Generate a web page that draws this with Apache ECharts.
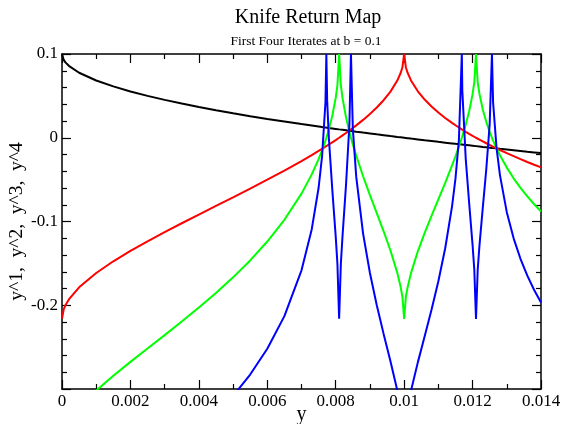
<!DOCTYPE html>
<html>
<head>
<meta charset="utf-8">
<script src="https://cdn.jsdelivr.net/npm/echarts@6/dist/echarts.min.js"></script>
<style>html,body{margin:0;padding:0;background:#fff;}#c{width:562px;height:424px;}</style>
</head>
<body>
<div id="c"></div>
<script>
const xs = [0, 0.00005, 0.0001, 0.0002, 0.0005, 0.001, 0.0015, 0.002, 0.0025, 0.003, 0.0035, 0.004, 0.0045, 0.005, 0.0055, 0.006, 0.0065, 0.007, 0.0073, 0.0075, 0.0076, 0.0077, 0.0077264, 0.00775, 0.0078, 0.0079, 0.008, 0.00805, 0.0081, 0.00815, 0.0082, 0.0083, 0.0084, 0.0084456, 0.0085, 0.0086, 0.0088, 0.009, 0.0092, 0.0094, 0.0096, 0.0098, 0.0099, 0.00995, 0.01, 0.01005, 0.0101, 0.0102, 0.0104, 0.0106, 0.0108, 0.011, 0.0112, 0.0114, 0.0115, 0.0116, 0.0116856, 0.0117, 0.0118, 0.0119, 0.012, 0.01205, 0.0121, 0.01215, 0.0122, 0.0123, 0.0124, 0.0125, 0.0125664, 0.0126, 0.0127, 0.0128, 0.013, 0.0132, 0.0134, 0.0136, 0.0138, 0.014];
const iter1 = [0.1, 0.0929, 0.09, 0.0859, 0.0776, 0.0684, 0.0613, 0.0553, 0.05, 0.0452, 0.0408, 0.0368, 0.0329, 0.0293, 0.0258, 0.0225, 0.0194, 0.0163, 0.01456, 0.0134, 0.01282, 0.01225, 0.0121, 0.01197, 0.01168, 0.01112, 0.01056, 0.01028, 0.01, 0.00972, 0.00945, 0.0089, 0.00835, 0.0081, 0.00781, 0.00726, 0.00619, 0.00513, 0.00408, 0.00305, 0.00202, 0.001, 0.0005, 0.00025, 0, -0.00025, -0.0005, -0.001, -0.00198, -0.00296, -0.00392, -0.00488, -0.00583, -0.00677, -0.00724, -0.0077, -0.0081, -0.00817, -0.00863, -0.00909, -0.00955, -0.00977, -0.01, -0.01023, -0.01045, -0.01091, -0.01136, -0.0118, -0.0121, -0.01225, -0.01269, -0.01314, -0.01402, -0.01489, -0.01576, -0.01662, -0.01747, -0.01832];
const iter2 = [-0.2162, -0.2048, -0.2, -0.193, -0.1786, -0.1615, -0.1475, -0.1351, -0.1236, -0.1127, -0.1021, -0.0917, -0.0814, -0.0711, -0.0607, -0.0501, -0.0392, -0.0278, -0.02066, -0.01575, -0.01323, -0.01068, -0.01, -0.00939, -0.00808, -0.00544, -0.00275, -0.00138, 0, 0.00139, 0.00281, 0.00568, 0.00863, 0.01, 0.01165, 0.01477, 0.02131, 0.02836, 0.0361, 0.04481, 0.05506, 0.0683, 0.07762, 0.08419, 0.1, 0.08419, 0.07766, 0.06846, 0.0555, 0.04563, 0.03737, 0.03014, 0.02365, 0.01771, 0.01492, 0.01223, 0.01, 0.00963, 0.00711, 0.00467, 0.0023, 0.00115, 0, -0.00113, -0.00224, -0.00443, -0.00656, -0.00864, -0.01, -0.01068, -0.01267, -0.01462, -0.0184, -0.02203, -0.02553, -0.02891, -0.03219, -0.03536];
const iter3 = [-0.365, -0.3526, -0.3472, -0.3393, -0.3227, -0.3019, -0.2841, -0.2676, -0.2516, -0.2357, -0.2195, -0.2028, -0.1854, -0.1667, -0.1465, -0.1239, -0.098, -0.0667, -0.04374, -0.0255, -0.01502, -0.00335, 0, 0.0031, 0.01011, 0.02624, 0.04756, 0.06285, 0.1, 0.06272, 0.04699, 0.02463, 0.0071, 0, -0.00794, -0.02153, -0.04598, -0.0684, -0.09, -0.11168, -0.13465, -0.16134, -0.17861, -0.19016, -0.21623, -0.19016, -0.17868, -0.16165, -0.13558, -0.11361, -0.09331, -0.07361, -0.05379, -0.03308, -0.02215, -0.01059, 0, 0.00187, 0.01568, 0.03166, 0.05204, 0.06609, 0.1, 0.06638, 0.05267, 0.03344, 0.01901, 0.00705, 0, -0.00335, -0.01256, -0.02091, -0.03565, -0.04843, -0.05978, -0.07003, -0.07942, -0.08804];
const iter4 = [-0.5042, -0.4938, -0.4893, -0.4825, -0.468, -0.4494, -0.433, -0.4173, -0.4016, -0.3855, -0.3685, -0.3504, -0.3305, -0.3083, -0.2827, -0.252, -0.213, -0.1583, -0.10914, -0.05969, -0.02256, 0.04212, 0.1, 0.04432, -0.00055, -0.06199, -0.11808, -0.1507, -0.21623, -0.15044, -0.11677, -0.05694, 0.01574, 0.1, 0.01089, -0.04673, -0.11443, -0.16153, -0.2, -0.23419, -0.26695, -0.30167, -0.32262, -0.33608, -0.36501, -0.33608, -0.32271, -0.30206, -0.26821, -0.23706, -0.20547, -0.17131, -0.13193, -0.08188, -0.04883, -0.00291, 0.1, 0.05676, -0.02522, -0.07793, -0.12812, -0.15708, -0.21623, -0.15764, -0.1295, -0.08287, -0.03788, 0.01604, 0.1, 0.04212, -0.01207, -0.0446, -0.08881, -0.12007, -0.1445, -0.16463, -0.18182, -0.19672];
const seriesNames = ['y^1', 'y^2', 'y^3', 'y^4'];
const seriesColors = ['#000000', '#ff0000', '#00ff00', '#0000ff'];
const titleText = 'Knife Return Map';
const subtitleText = 'First Four Iterates at b = 0.1';
const xName = 'y';
const yName = 'y^1,  y^2,  y^3,  y^4';

const FONT = "'Liberation Serif', 'Times New Roman', serif";
const allIters = [iter1, iter2, iter3, iter4];

function axisBase(showLabel) {
  return {
    type: 'value',
    axisLine: { show: true, onZero: false, lineStyle: { color: '#000', width: 1.5 } },
    axisTick: { show: true, inside: true, length: 9, lineStyle: { color: '#000', width: 1.2 } },
    minorTick: { show: true, length: 5, lineStyle: { color: '#000', width: 1.2 } },
    splitLine: { show: false },
    minorSplitLine: { show: false },
    axisLabel: { show: showLabel, color: '#000', fontFamily: FONT, fontSize: 17, margin: 4 }
  };
}

const xBottom = Object.assign(axisBase(true), {
  position: 'bottom', min: 0, max: 0.014, interval: 0.002,
  name: xName, nameLocation: 'middle', nameGap: 16, nameMoveOverlap: false,
  nameTextStyle: { color: '#000', fontFamily: FONT, fontSize: 20 }
});
xBottom.minorTick.splitNumber = 2;
const xTop = Object.assign(axisBase(false), { position: 'top', min: 0, max: 0.014, interval: 0.002 });
xTop.minorTick.splitNumber = 2;

const yLeft = Object.assign(axisBase(true), {
  position: 'left', min: -0.3, max: 0.1, interval: 0.1,
  name: yName, nameLocation: 'middle', nameGap: 35, nameRotate: 90, nameMoveOverlap: false,
  nameTextStyle: { color: '#000', fontFamily: FONT, fontSize: 19.5 }
});
yLeft.axisLabel.formatter = function (v) { return Math.abs(v + 0.3) < 1e-9 ? '' : String(Math.round(v * 10) / 10); };
yLeft.minorTick.splitNumber = 5;
const yRight = Object.assign(axisBase(false), { position: 'right', min: -0.3, max: 0.1, interval: 0.1 });
yRight.minorTick.splitNumber = 5;

const chart = echarts.init(document.getElementById('c'), null, { renderer: 'canvas' });
chart.setOption({
  animation: false,
  backgroundColor: '#fff',
  title: [
    { text: titleText, left: 303, textAlign: 'center', top: 3, textStyle: { color: '#000', fontFamily: FONT, fontSize: 20, fontWeight: 'normal' } },
    { text: subtitleText, left: 301, textAlign: 'center', top: 29, textStyle: { color: '#000', fontFamily: FONT, fontSize: 13.5, fontWeight: 'normal' } }
  ],
  grid: { left: 62, right: 21, top: 54, bottom: 35, containLabel: false, outerBoundsMode: 'none' },
  xAxis: [xBottom, xTop],
  yAxis: [yLeft, yRight],
  series: allIters.map(function (ys, i) {
    return {
      name: seriesNames[i], type: 'line', xAxisIndex: 0, yAxisIndex: 0,
      data: xs.map(function (x, j) { return [x, ys[j]]; }),
      showSymbol: false, symbol: 'none', clip: true,
      lineStyle: { color: seriesColors[i], width: 2 },
      z: 2 + i
    };
  })
});
</script>
</body>
</html>
